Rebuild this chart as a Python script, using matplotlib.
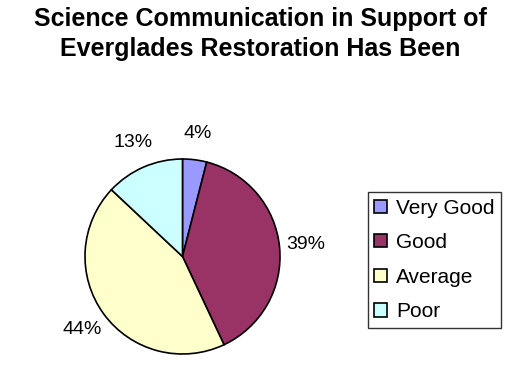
import matplotlib
matplotlib.use("Agg")
import matplotlib.pyplot as plt
from matplotlib.patches import Patch

plt.rcParams['font.family'] = ['Liberation Sans', 'DejaVu Sans']

title = "Science Communication in Support of\nEverglades Restoration Has Been"
categories = ["Very Good", "Good", "Average", "Poor"]
values = [4, 39, 44, 13]
colors = ["#9999FF", "#993366", "#FFFFCC", "#CCFFFF"]

W, H = 520, 373
fig = plt.figure(figsize=(W / 100, H / 100), dpi=100)
fig.patch.set_facecolor("white")

cx, cy, r = 182.5, 256.5, 97.5
ax = fig.add_axes([(cx - r) / W, (H - cy - r) / H, 2 * r / W, 2 * r / H])
wedges, texts = ax.pie(values, colors=colors, startangle=90, counterclock=False,
                       radius=1.0,
                       wedgeprops=dict(edgecolor="black", linewidth=1.2),
                       labels=[f"{v}%" for v in values], labeldistance=1.27,
                       textprops=dict(fontsize=14, color="black"))
for t in texts:
    t.set_horizontalalignment("center")
    t.set_verticalalignment("center")
ax.set_xlim(-1, 1)
ax.set_ylim(-1, 1)
ax.set_aspect("equal")
ax.axis("off")

fig.text(0.5, 1 - 34 / H, title, ha="center", va="center", fontsize=18,
         fontweight="bold", linespacing=1.35)

handles = [Patch(facecolor=c, edgecolor="black", linewidth=1.2) for c in colors]
leg = fig.legend(handles, categories, loc="center left",
                 bbox_to_anchor=(368 / W, 1 - 260 / H), fontsize=15,
                 frameon=True, fancybox=False, edgecolor="black",
                 handlelength=0.6, handleheight=0.6, handletextpad=0.45,
                 labelspacing=0.75, borderpad=0.3, borderaxespad=0)
leg.get_frame().set_linewidth(1.0)

fig.savefig("out.png", dpi=100)
